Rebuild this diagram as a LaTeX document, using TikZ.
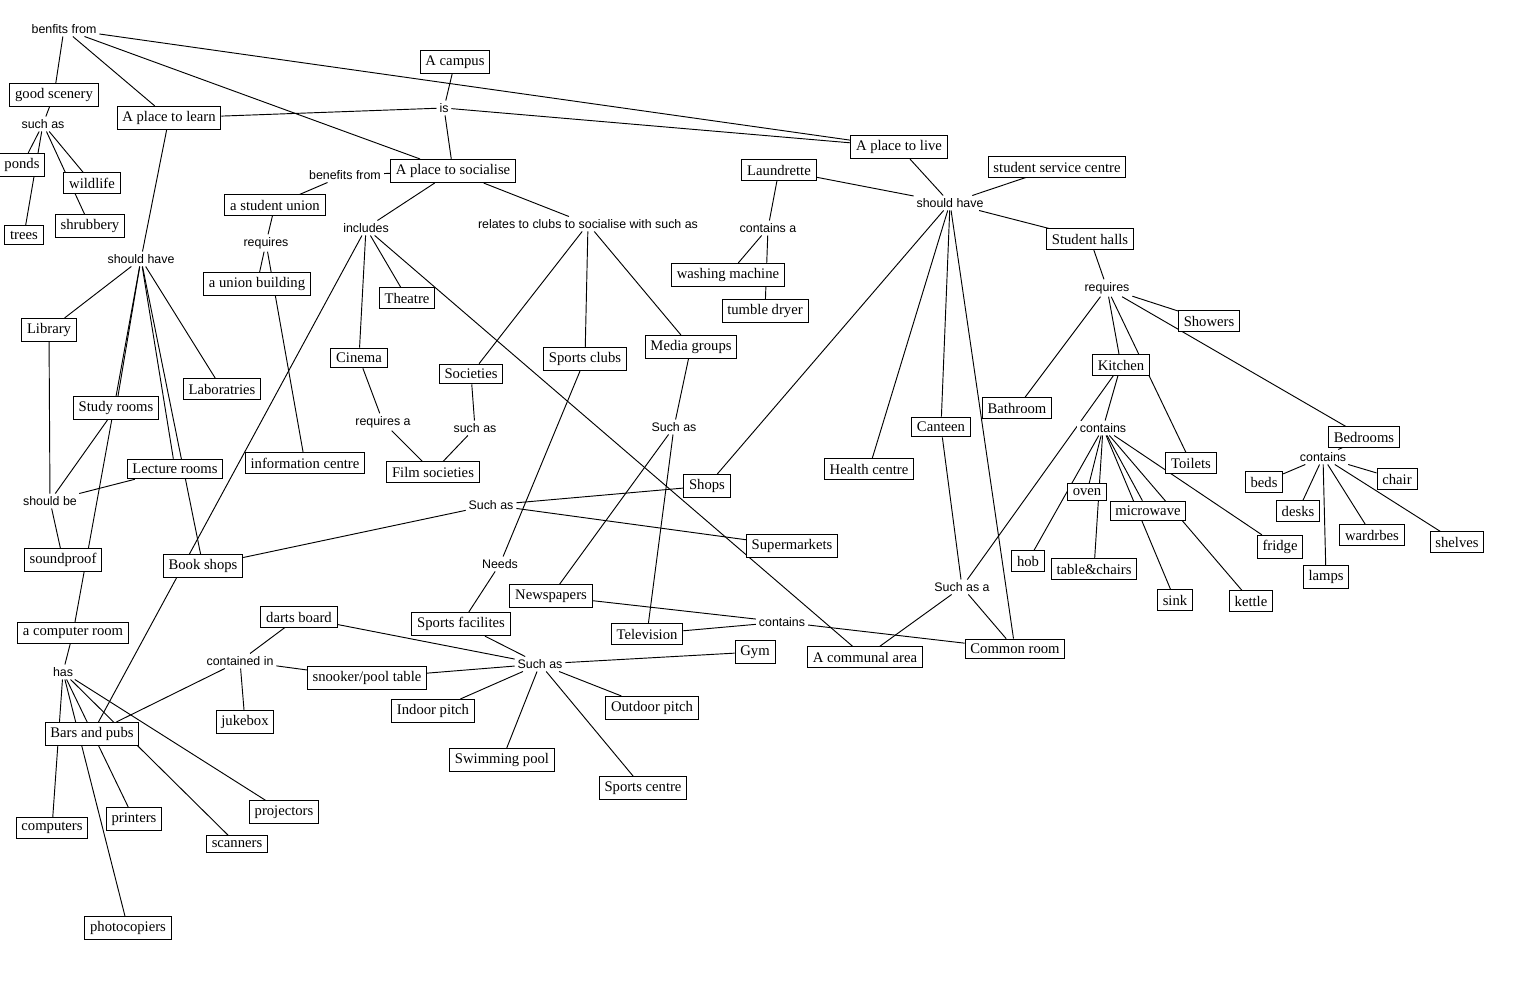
\documentclass[tikz,border=0pt]{standalone}
\usepackage{fontspec}
\setmainfont{Liberation Serif}
\setsansfont{Liberation Sans}
\usepackage{tikz}
\usetikzlibrary{backgrounds}

\begin{document}
\begin{tikzpicture}[
  x=0.75pt, y=-0.75pt,
  every node/.style={font=\fontsize{11}{13}\selectfont},
  cpt/.style={draw, fill=white, line width=0.7pt, inner xsep=4pt, inner ysep=3.7pt},
  lnk/.style={fill=white, font=\sffamily\fontsize{9.3}{11}\selectfont, inner sep=2pt}
]
  \useasboundingbox (0,0) rectangle (1524,981);

  \node[cpt] (campus) at (455,62) {A campus};
  \node[cpt] (learn) at (169,118) {A place to learn};
  \node[cpt] (social) at (453,171) {A place to socialise};
  \node[cpt] (live) at (899,147) {A place to live};
  \node[cpt] (scenery) at (54,95) {good scenery};
  \node[cpt] (ponds) at (22,165) {ponds};
  \node[cpt] (wildlife) at (92,183) {wildlife};
  \node[cpt] (trees) at (24,235) {trees};
  \node[cpt] (shrub) at (90,226) {shrubbery};
  \node[cpt] (union) at (275,205) {a student union};
  \node[cpt] (ubuild) at (257,284) {a union building};
  \node[cpt] (info) at (305,463) {information centre};
  \node[cpt] (theatre) at (407,298) {Theatre};
  \node[cpt] (cinema) at (359,358) {Cinema};
  \node[cpt] (societies) at (471,374) {Societies};
  \node[cpt] (film) at (433,472) {Film societies};
  \node[cpt] (library) at (49,330) {Library};
  \node[cpt] (labs) at (222,389) {Laboratries};
  \node[cpt] (study) at (116,408) {Study rooms};
  \node[cpt] (lecture) at (175,469) {Lecture rooms};
  \node[cpt] (sound) at (63,560) {soundproof};
  \node[cpt] (books) at (203,566) {Book shops};
  \node[cpt] (comproom) at (73,633) {a computer room};
  \node[cpt] (bars) at (92,734) {Bars and pubs};
  \node[cpt] (computers) at (52,828) {computers};
  \node[cpt] (printers) at (134,819) {printers};
  \node[cpt] (scanners) at (237,844) {scanners};
  \node[cpt] (projectors) at (284,812) {projectors};
  \node[cpt] (photo) at (128,928) {photocopiers};
  \node[cpt] (darts) at (299,617) {darts board};
  \node[cpt] (snooker) at (367,678) {snooker/pool table};
  \node[cpt] (jukebox) at (245,722) {jukebox};
  \node[cpt] (sportfac) at (461,624) {Sports facilites};
  \node[cpt] (newspapers) at (551,596) {Newspapers};
  \node[cpt] (tv) at (647,634) {Television};
  \node[cpt] (gym) at (755,652) {Gym};
  \node[cpt] (shops) at (707,486) {Shops};
  \node[cpt] (supermkt) at (792,546) {Supermarkets};
  \node[cpt] (media) at (691,347) {Media groups};
  \node[cpt] (sportclubs) at (585,359) {Sports clubs};
  \node[cpt] (laundrette) at (779,170) {Laundrette};
  \node[cpt] (washer) at (728,275) {washing machine};
  \node[cpt] (dryer) at (765,311) {tumble dryer};
  \node[cpt] (ssc) at (1057,167) {student service centre};
  \node[cpt] (halls) at (1090,239) {Student halls};
  \node[cpt] (showers) at (1209,321) {Showers};
  \node[cpt] (kitchen) at (1121,365) {Kitchen};
  \node[cpt] (bathroom) at (1017,408) {Bathroom};
  \node[cpt] (toilets) at (1191,463) {Toilets};
  \node[cpt] (bedrooms) at (1364,437) {Bedrooms};
  \node[cpt] (beds) at (1264,482) {beds};
  \node[cpt] (chair) at (1397,479) {chair};
  \node[cpt] (desks) at (1298,511) {desks};
  \node[cpt] (wardrobes) at (1372,535) {wardrbes};
  \node[cpt] (shelves) at (1457,542) {shelves};
  \node[cpt] (lamps) at (1326,577) {lamps};
  \node[cpt] (oven) at (1087,492) {oven};
  \node[cpt] (microwave) at (1148,511) {microwave};
  \node[cpt] (fridge) at (1280,547) {fridge};
  \node[cpt] (hob) at (1028,561) {hob};
  \node[cpt] (tables) at (1094,569) {table\&chairs};
  \node[cpt] (sink) at (1175,600) {sink};
  \node[cpt] (kettle) at (1251,601) {kettle};
  \node[cpt] (common) at (1015,649) {Common room};
  \node[cpt] (communal) at (865,657) {A communal area};
  \node[cpt] (health) at (869,469) {Health centre};
  \node[cpt] (canteen) at (941,427) {Canteen};
  \node[cpt] (outdoor) at (652,708) {Outdoor pitch};
  \node[cpt] (sportcentre) at (643,788) {Sports centre};
  \node[cpt] (pool) at (502,760) {Swimming pool};
  \node[cpt] (indoor) at (433,711) {Indoor pitch};

  \node[lnk] (lbenfits) at (64,29) {benfits from};
  \node[lnk] (lsuch1) at (43,124) {such as};
  \node[lnk] (lis) at (444,108) {is};
  \node[lnk] (lbenefits) at (345,175) {benefits from};
  \node[lnk] (lreq1) at (266,243) {requires};
  \node[lnk] (lincl) at (366,228) {includes};
  \node[lnk] (lrelates) at (588,224) {relates to clubs to socialise with such as};
  \node[lnk] (lsuch2) at (475,428) {such as};
  \node[lnk] (lreqa) at (383,422) {requires a};
  \node[lnk] (lhave1) at (141,259) {should have};
  \node[lnk] (lshouldbe) at (50,501) {should be};
  \node[lnk] (lhas) at (63,672) {has};
  \node[lnk] (lcontin) at (240,661) {contained in};
  \node[lnk] (lsuch3) at (491,505) {Such as};
  \node[lnk] (lneeds) at (500,564) {Needs};
  \node[lnk] (lsuch4) at (540,664) {Such as};
  \node[lnk] (lsuch5) at (674,427) {Such as};
  \node[lnk] (lcont1) at (782,622) {contains};
  \node[lnk] (lconta) at (768,228) {contains a};
  \node[lnk] (lhave2) at (950,203) {should have};
  \node[lnk] (lreq2) at (1107,288) {requires};
  \node[lnk] (lcont2) at (1103,428) {contains};
  \node[lnk] (lcont3) at (1323,457) {contains};
  \node[lnk] (lsuchasa) at (962,587) {Such as a};

  \begin{scope}[on background layer]
  \foreach \a/\b in {lbenfits/scenery, lbenfits/learn, lbenfits/social, lbenfits/live,
      campus/lis, lis/learn, lis/social, lis/live,
      scenery/lsuch1, lsuch1/ponds, lsuch1/trees, lsuch1/wildlife, lsuch1/shrub,
      learn/lhave1, lhave1/library, lhave1/study, lhave1/comproom, lhave1/lecture, lhave1/books, lhave1/labs,
      library/lshouldbe, study/lshouldbe, lecture/lshouldbe, lshouldbe/sound,
      comproom/lhas, lhas/computers, lhas/photo, lhas/printers, lhas/scanners, lhas/projectors,
      bars/lcontin, lcontin/darts, lcontin/snooker, lcontin/jukebox,
      social/lbenefits, lbenefits/union, union/lreq1, lreq1/ubuild, lreq1/info,
      social/lincl, lincl/bars, lincl/cinema, lincl/theatre, lincl/communal,
      cinema/lreqa, lreqa/film, societies/lsuch2, lsuch2/film,
      social/lrelates, lrelates/societies, lrelates/sportclubs, lrelates/media,
      sportclubs/lneeds, lneeds/sportfac, sportfac/lsuch4,
      lsuch4/darts, lsuch4/snooker, lsuch4/indoor, lsuch4/pool, lsuch4/sportcentre, lsuch4/outdoor, lsuch4/gym,
      media/lsuch5, lsuch5/newspapers, lsuch5/tv, newspapers/lcont1, tv/lcont1, lcont1/common,
      books/lsuch3, lsuch3/shops, lsuch3/supermkt,
      live/lhave2, laundrette/lhave2, lhave2/ssc, lhave2/halls, lhave2/shops, lhave2/health, lhave2/canteen, lhave2/common,
      laundrette/lconta, lconta/washer, lconta/dryer,
      canteen/lsuchasa, lsuchasa/communal, lsuchasa/common, kitchen/lsuchasa,
      halls/lreq2, lreq2/showers, lreq2/bathroom, lreq2/kitchen, lreq2/toilets, lreq2/bedrooms,
      kitchen/lcont2, lcont2/oven, lcont2/hob, lcont2/tables, lcont2/microwave, lcont2/sink, lcont2/kettle, lcont2/fridge,
      bedrooms/lcont3, lcont3/beds, lcont3/chair, lcont3/desks, lcont3/lamps, lcont3/wardrobes, lcont3/shelves}
    \draw[line width=0.7pt] (\a) -- (\b);
  \end{scope}
\end{tikzpicture}
\end{document}
